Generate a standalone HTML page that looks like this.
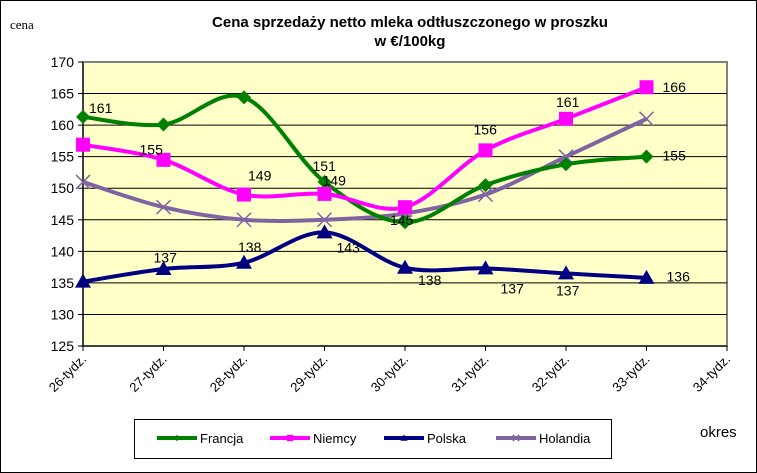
<!DOCTYPE html>
<html><head><meta charset="utf-8"><style>
html,body{margin:0;padding:0;background:#fff}
svg{display:block;font-family:"Liberation Sans",Arial,sans-serif}
</style></head><body>
<svg width="757" height="473" viewBox="0 0 757 473">
<rect x="0.5" y="0.5" width="756" height="472" fill="#fff" stroke="#000"/>
<text x="10" y="29" font-family="Liberation Serif,serif" font-size="13">cena</text>
<text x="410" y="27" text-anchor="middle" font-weight="bold" font-size="15">Cena sprzedaży netto mleka  odtłuszczonego w proszku</text>
<text x="410" y="46" text-anchor="middle" font-weight="bold" font-size="15">w €/100kg</text>
<rect x="83" y="62" width="644" height="284" fill="#ffffc8" stroke="#808080" stroke-width="2"/>
<g id="grid"></g><g id="axes"></g><g id="series"></g><g id="labels"></g>
<text x="700" y="437" font-size="15">okres</text>
<rect x="134.5" y="419.5" width="477" height="39" fill="#fff" stroke="#000"/>
<g id="legend"></g>
</svg>
<script>
const categories=["26-tydz.","27-tydz.","28-tydz.","29-tydz.","30-tydz.","31-tydz.","32-tydz.","33-tydz.","34-tydz."];
const yTicks=[125,130,135,140,145,150,155,160,165,170];
const francja=[161.3,160.1,164.4,151,144.6,150.5,153.8,155];
const niemcy=[156.9,154.5,149,149.1,147,156,161,166];
const polska=[135.2,137.2,138.2,143,137.4,137.3,136.5,135.8];
const holandia=[151,147,145,145,146,149,155,161];
const seriesNames=["Francja","Niemcy","Polska","Holandia"];
const pointLabels=[
 [0,161,"161",6,-6],[3,151,"151",-12,-11],[7,155,"155",16,4],
 [1,155,"155",-24,-2],[2,149,"149",4,-14],[3,149,"149",-2,-9],[5,156,"156",-12,-16],[6,161,"161",-10,-12],[7,166,"166",16,5],
 [1,137,"137",-10,-8],[2,138,"138",-6,-12],[3,143,"143",12,20],[4,138,"138",13,21],[5,137,"137",15,23],[6,137,"137",-10,25],[7,136,"136",20,5],
 [4,145,"145",-15,5]
];
const NS="http://www.w3.org/2000/svg";
const X0=83,X1=727,Y0=346,Y1=62;
const xs=i=>X0+i*(X1-X0)/(categories.length-1);
const ys=v=>Y0-(v-125)*(Y0-Y1)/45;
function mk(t,a,p){const e=document.createElementNS(NS,t);for(const k in a)e.setAttribute(k,a[k]);p.appendChild(e);return e;}
const grid=document.getElementById('grid'),axes=document.getElementById('axes');
yTicks.forEach(v=>{
 if(v>125&&v<170){const l=mk('line',{x1:X0,x2:X1,y1:ys(v),y2:ys(v),stroke:'#000','stroke-width':1},grid);
 
 }
 const tk=mk('line',{x1:X0-5,x2:X0,y1:ys(v),y2:ys(v),stroke:'#000'},axes);
 
 
 const t=mk('text',{x:X0-9,y:ys(v)+5,'text-anchor':'end','font-size':14},axes);t.textContent=v;
 
 
});
mk('line',{x1:X0,x2:X0,y1:Y1,y2:Y0,stroke:'#000'},axes);
mk('line',{x1:X0,x2:X1,y1:Y0,y2:Y0,stroke:'#000'},axes);
categories.forEach((c,i)=>{
 const tk=mk('line',{x1:xs(i),x2:xs(i),y1:Y0,y2:Y0+5,stroke:'#000'},axes);
 
 
 const t=mk('text',{x:xs(i)+4,y:Y0+14,'text-anchor':'end','font-size':13,transform:`rotate(-45 ${xs(i)+4} ${Y0+14})`},axes);t.textContent=c;
 
 
});
function smooth(pts){let d=`M${pts[0][0]},${pts[0][1]}`;for(let i=0;i<pts.length-1;i++){const p0=pts[i-1]||pts[i],p1=pts[i],p2=pts[i+1],p3=pts[i+2]||p2;const t=6;d+=`C${p1[0]+(p2[0]-p0[0])/t},${p1[1]+(p2[1]-p0[1])/t} ${p2[0]-(p3[0]-p1[0])/t},${p2[1]-(p3[1]-p1[1])/t} ${p2[0]},${p2[1]}`;}return d;}
function marker(type,x,y,col,g,s){
 if(type==='diamond')return mk('polygon',{points:`${x},${y-7*s} ${x+7*s},${y} ${x},${y+7*s} ${x-7*s},${y}`,fill:col},g);
 if(type==='square')return mk('rect',{x:x-7*s,y:y-7*s,width:14*s,height:14*s,fill:col},g);
 if(type==='triangle')return mk('polygon',{points:`${x},${y-8*s} ${x+8*s},${y+6*s} ${x-8*s},${y+6*s}`,fill:col},g);
 return mk('path',{d:`M${x-7*s},${y-7*s}L${x+7*s},${y+7*s}M${x+7*s},${y-7*s}L${x-7*s},${y+7*s}`,stroke:col,'stroke-width':1.5,fill:'none'},g);
}
const defs=[[holandia,'#8064a2','x'],[polska,'#000080','triangle'],[francja,'#008000','diamond'],[niemcy,'#ff00ff','square']];
const sg=document.getElementById('series');
defs.forEach(([d,col,m])=>{
 const g=mk('g',{},sg);
 
 
 const pts=d.map((v,i)=>[xs(i),ys(v)]);
 mk('path',{d:smooth(pts),fill:'none',stroke:col,'stroke-width':4,'stroke-linejoin':'round'},g);
 pts.forEach(p=>{const e=marker(m,p[0],p[1],col,g,1);
 
 });
});
const lg=document.getElementById('labels');
pointLabels.forEach(([i,v,s,dx,dy])=>{
 const t=mk('text',{x:xs(i)+dx,y:ys(v)+dy,'font-size':14},lg);t.textContent=s;
 
 
});
const leg=document.getElementById('legend');
const legDefs=[['#008000','diamond'],['#ff00ff','square'],['#000080','triangle'],['#8064a2','x']];
const legX=[157,270,384,496];
seriesNames.forEach((n,i)=>{
 const g=mk('g',{},leg);
 
 
 const x=legX[i];
 mk('line',{x1:x,x2:x+40,y1:438,y2:438,stroke:legDefs[i][0],'stroke-width':4},g);
 marker(legDefs[i][1],x+20,438,legDefs[i][0],g,0.45);
 const t=mk('text',{x:x+43,y:443,'font-size':13},g);t.textContent=n;
});
</script>
</body></html>
